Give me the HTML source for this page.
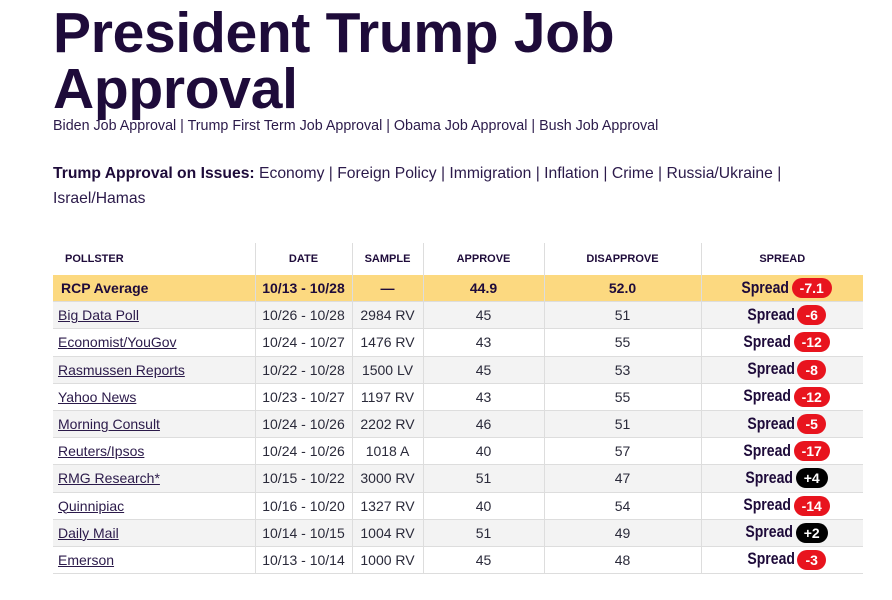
<!DOCTYPE html>
<html><head><meta charset="utf-8"><style>
body{margin:0;width:892px;height:600px;overflow:hidden;background:#fff;font-family:"Liberation Sans",sans-serif;color:#1e0b3a;position:relative}
h1{position:absolute;left:53px;top:5px;margin:0;font-size:57px;line-height:56px;font-weight:bold;letter-spacing:-0.3px;color:#1e0b3a}
.links{position:absolute;left:53px;top:118px;font-size:14.3px;color:#2b1a4a}
.issues{position:absolute;left:53px;top:161px;font-size:15.7px;line-height:25px;width:760px;color:#2b1a4a}
table{position:absolute;left:53px;top:243px;border-collapse:collapse;width:810px;font-size:14px}
td,th{height:26.2px;padding:0;text-align:center;border-bottom:1px solid #ddd;color:#2a2a3a}
th{height:32px;font-size:11px;font-weight:bold;color:#1e0b3a;border-left:1px solid #ddd;border-bottom:none}
th:first-child,td:first-child{border-left:none;text-align:left;padding-left:5px}
td{border-left:1px solid #ddd}
tr.avg td{background:#fcd980;font-weight:bold;color:#1e0b3a;font-size:14px}
tr.avg td:first-child{padding-left:8px}
tr.g td{background:#f3f3f3}
td a{color:#2b1a4a;text-decoration:underline}
.sp{font-weight:bold;color:#1e0b3a;font-size:16.5px;display:inline-block;transform:scaleX(0.85);transform-origin:right center;vertical-align:middle}
.b{display:inline-block;background:#e8141e;color:#fff;border-radius:10px;padding:2px 8px;font-size:14px;line-height:16px;margin-left:3px;font-weight:bold;vertical-align:middle}
.k{background:#000}
</style></head><body>
<h1>President Trump Job<br>Approval</h1>
<div class="links">Biden Job Approval | Trump First Term Job Approval | Obama Job Approval | Bush Job Approval</div>
<div class="issues"><b style="color:#1e0b3a">Trump Approval on Issues:</b> Economy | Foreign Policy | Immigration | Inflation | Crime | Russia/Ukraine |<br>Israel/Hamas</div>
<table>
<colgroup><col style="width:202px"><col style="width:97px"><col style="width:71px"><col style="width:121px"><col style="width:157px"><col style="width:162px"></colgroup>
<tr><th style="padding-left:12px">POLLSTER</th><th>DATE</th><th>SAMPLE</th><th>APPROVE</th><th>DISAPPROVE</th><th>SPREAD</th></tr>
<tr class="avg"><td>RCP Average</td><td>10/13 - 10/28</td><td>—</td><td>44.9</td><td>52.0</td><td><span class="sp">Spread</span><span class="b">-7.1</span></td></tr>
<tr class="g"><td><a>Big Data Poll</a></td><td>10/26 - 10/28</td><td>2984 RV</td><td>45</td><td>51</td><td><span class="sp">Spread</span><span class="b">-6</span></td></tr>
<tr><td><a>Economist/YouGov</a></td><td>10/24 - 10/27</td><td>1476 RV</td><td>43</td><td>55</td><td><span class="sp">Spread</span><span class="b">-12</span></td></tr>
<tr class="g"><td><a>Rasmussen Reports</a></td><td>10/22 - 10/28</td><td>1500 LV</td><td>45</td><td>53</td><td><span class="sp">Spread</span><span class="b">-8</span></td></tr>
<tr><td><a>Yahoo News</a></td><td>10/23 - 10/27</td><td>1197 RV</td><td>43</td><td>55</td><td><span class="sp">Spread</span><span class="b">-12</span></td></tr>
<tr class="g"><td><a>Morning Consult</a></td><td>10/24 - 10/26</td><td>2202 RV</td><td>46</td><td>51</td><td><span class="sp">Spread</span><span class="b">-5</span></td></tr>
<tr><td><a>Reuters/Ipsos</a></td><td>10/24 - 10/26</td><td>1018 A</td><td>40</td><td>57</td><td><span class="sp">Spread</span><span class="b">-17</span></td></tr>
<tr class="g"><td><a>RMG Research*</a></td><td>10/15 - 10/22</td><td>3000 RV</td><td>51</td><td>47</td><td><span class="sp">Spread</span><span class="b k">+4</span></td></tr>
<tr><td><a>Quinnipiac</a></td><td>10/16 - 10/20</td><td>1327 RV</td><td>40</td><td>54</td><td><span class="sp">Spread</span><span class="b">-14</span></td></tr>
<tr class="g"><td><a>Daily Mail</a></td><td>10/14 - 10/15</td><td>1004 RV</td><td>51</td><td>49</td><td><span class="sp">Spread</span><span class="b k">+2</span></td></tr>
<tr><td><a>Emerson</a></td><td>10/13 - 10/14</td><td>1000 RV</td><td>45</td><td>48</td><td><span class="sp">Spread</span><span class="b">-3</span></td></tr>
</table>
</body></html>
